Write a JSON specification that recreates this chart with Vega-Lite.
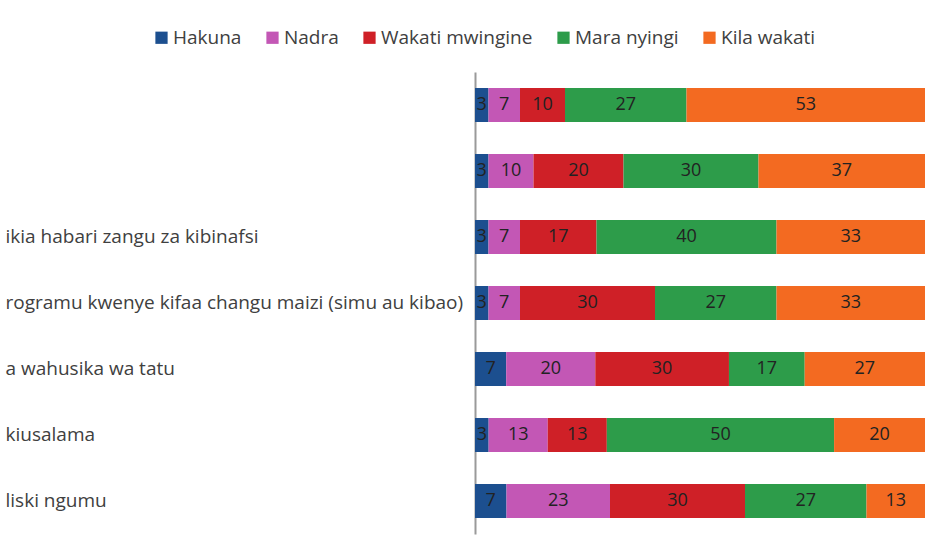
{
  "$schema": "https://vega.github.io/schema/vega-lite/v6.json",
  "autosize": {"type": "none"},
  "padding": {"left": 475, "top": 72, "right": 4, "bottom": 7},
  "width": 450,
  "height": 462,
  "background": "white",
  "config": {"view": {"stroke": null}, "font": "Open Sans"},
  "data": {"values": [
    {"row": " ", "cat": "Hakuna", "k": 1, "v": 3},
    {"row": " ", "cat": "Nadra", "k": 2, "v": 7},
    {"row": " ", "cat": "Wakati mwingine", "k": 3, "v": 10},
    {"row": " ", "cat": "Mara nyingi", "k": 4, "v": 27},
    {"row": " ", "cat": "Kila wakati", "k": 5, "v": 53},
    {"row": "  ", "cat": "Hakuna", "k": 1, "v": 3},
    {"row": "  ", "cat": "Nadra", "k": 2, "v": 10},
    {"row": "  ", "cat": "Wakati mwingine", "k": 3, "v": 20},
    {"row": "  ", "cat": "Mara nyingi", "k": 4, "v": 30},
    {"row": "  ", "cat": "Kila wakati", "k": 5, "v": 37},
    {"row": "ikia habari zangu za kibinafsi", "cat": "Hakuna", "k": 1, "v": 3},
    {"row": "ikia habari zangu za kibinafsi", "cat": "Nadra", "k": 2, "v": 7},
    {"row": "ikia habari zangu za kibinafsi", "cat": "Wakati mwingine", "k": 3, "v": 17},
    {"row": "ikia habari zangu za kibinafsi", "cat": "Mara nyingi", "k": 4, "v": 40},
    {"row": "ikia habari zangu za kibinafsi", "cat": "Kila wakati", "k": 5, "v": 33},
    {"row": "rogramu kwenye kifaa changu maizi (simu au kibao)", "cat": "Hakuna", "k": 1, "v": 3},
    {"row": "rogramu kwenye kifaa changu maizi (simu au kibao)", "cat": "Nadra", "k": 2, "v": 7},
    {"row": "rogramu kwenye kifaa changu maizi (simu au kibao)", "cat": "Wakati mwingine", "k": 3, "v": 30},
    {"row": "rogramu kwenye kifaa changu maizi (simu au kibao)", "cat": "Mara nyingi", "k": 4, "v": 27},
    {"row": "rogramu kwenye kifaa changu maizi (simu au kibao)", "cat": "Kila wakati", "k": 5, "v": 33},
    {"row": "a wahusika wa tatu", "cat": "Hakuna", "k": 1, "v": 7},
    {"row": "a wahusika wa tatu", "cat": "Nadra", "k": 2, "v": 20},
    {"row": "a wahusika wa tatu", "cat": "Wakati mwingine", "k": 3, "v": 30},
    {"row": "a wahusika wa tatu", "cat": "Mara nyingi", "k": 4, "v": 17},
    {"row": "a wahusika wa tatu", "cat": "Kila wakati", "k": 5, "v": 27},
    {"row": "kiusalama", "cat": "Hakuna", "k": 1, "v": 3},
    {"row": "kiusalama", "cat": "Nadra", "k": 2, "v": 13},
    {"row": "kiusalama", "cat": "Wakati mwingine", "k": 3, "v": 13},
    {"row": "kiusalama", "cat": "Mara nyingi", "k": 4, "v": 50},
    {"row": "kiusalama", "cat": "Kila wakati", "k": 5, "v": 20},
    {"row": "liski ngumu", "cat": "Hakuna", "k": 1, "v": 7},
    {"row": "liski ngumu", "cat": "Nadra", "k": 2, "v": 23},
    {"row": "liski ngumu", "cat": "Wakati mwingine", "k": 3, "v": 30},
    {"row": "liski ngumu", "cat": "Mara nyingi", "k": 4, "v": 27},
    {"row": "liski ngumu", "cat": "Kila wakati", "k": 5, "v": 13}
  ]},
  "encoding": {
    "y": {
      "field": "row", "type": "nominal",
      "sort": [" ", "  ", "ikia habari zangu za kibinafsi", "rogramu kwenye kifaa changu maizi (simu au kibao)", "a wahusika wa tatu", "kiusalama", "liski ngumu"],
      "scale": {"paddingInner": 0.485, "paddingOuter": 0.2425},
      "axis": {
        "title": null, "ticks": false, "labelAlign": "left", "labelPadding": 470,
        "labelLimit": 0, "labelFontSize": 19, "labelColor": "#404040", "labelFont": "Open Sans",
        "domainColor": "#9a9a9a", "domainWidth": 2
      }
    },
    "x": {
      "field": "v", "type": "quantitative", "stack": "normalize",
      "axis": null, "scale": {"domain": [0, 1]}
    },
    "order": {"field": "k", "type": "quantitative"}
  },
  "layer": [
    {
      "mark": {"type": "bar"},
      "encoding": {
        "color": {
          "field": "cat", "type": "nominal",
          "scale": {
            "domain": ["Hakuna", "Nadra", "Wakati mwingine", "Mara nyingi", "Kila wakati"],
            "range": ["#1c4f8f", "#c357b5", "#cf2027", "#2d9c4a", "#f36a21"]
          },
          "legend": {
            "orient": "none", "direction": "horizontal", "legendX": -323, "legendY": -44,
            "title": null, "symbolType": "square", "symbolSize": 150, "symbolStrokeWidth": 0,
            "labelFontSize": 19, "labelFont": "Open Sans", "labelColor": "#404040",
            "labelOffset": 2, "columnPadding": 21
          }
        }
      }
    },
    {
      "mark": {"type": "text", "fontSize": 18, "font": "Open Sans", "color": "#222222"},
      "encoding": {
        "x": {"field": "v", "type": "quantitative", "stack": "normalize", "bandPosition": 0.5},
        "text": {"field": "v", "type": "quantitative"}
      }
    }
  ]
}
